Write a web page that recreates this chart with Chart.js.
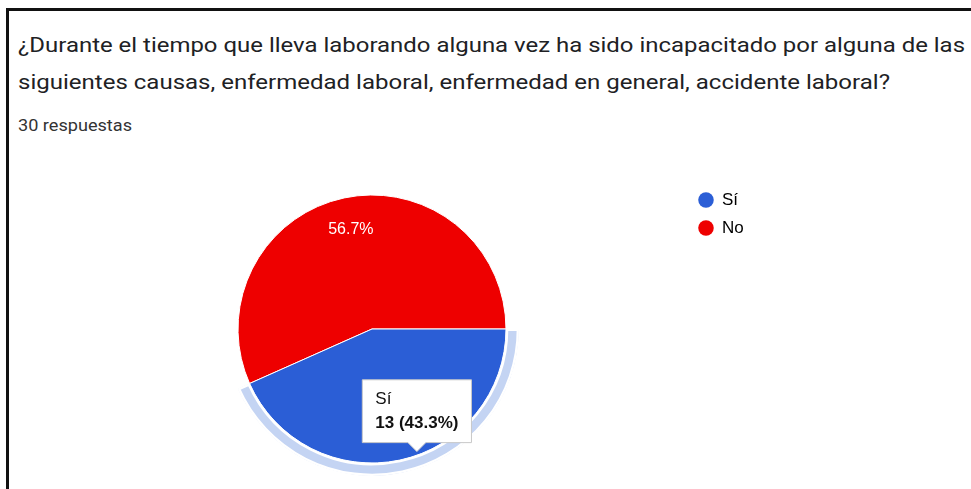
<!DOCTYPE html>
<html>
<head>
<meta charset="utf-8">
<script src="https://cdn.jsdelivr.net/npm/chart.js@4.4.1/dist/chart.umd.min.js"></script>
<style>
  html, body { margin: 0; padding: 0; background: #fff; }
  body { width: 971px; height: 489px; position: relative; overflow: hidden; }
  .frame-top { position: absolute; left: 6px; top: 8px; width: 965px; height: 3px; background: #111; }
  .frame-left { position: absolute; left: 6px; top: 8px; width: 3px; height: 481px; background: #111; }
  .txt { position: absolute; left: 18px; white-space: nowrap; font-family: Roboto, Arial, sans-serif;
         line-height: 1; color: #202124; transform-origin: 0 0; }
  .q { font-size: 21px; }
  .sub { font-size: 16px; color: #333; }
  #wrap { position: absolute; left: 0; top: 150px; width: 971px; height: 339px; }
</style>
</head>
<body>
<div class="frame-top"></div>
<div class="frame-left"></div>
<div class="txt q" style="top:35px" data-w="947">¿Durante el tiempo que lleva laborando alguna vez ha sido incapacitado por alguna de las</div>
<div class="txt q" style="top:72px" data-w="872">siguientes causas, enfermedad laboral, enfermedad en general, accidente laboral?</div>
<div class="txt sub" style="top:118px" data-w="114">30 respuestas</div>
<div id="wrap"><canvas id="pieChart"></canvas></div>

<script>
// data
const answers = ['Sí', 'No']
const counts = [13, 17]
const sliceColors = ['#2b5ed6', '#ee0000']
const ringColor = '#c4d4f3'

const total = counts.reduce((a, c) => a + c, 0)
const pct = v => (v / total * 100).toFixed(1)

// stretch text lines to the widths in the picture
document.querySelectorAll('.txt').forEach(el => {
    const w = el.getBoundingClientRect().width
    el.style.transform = 'scaleX(' + (parseFloat(el.dataset.w) / w) + ')'
})

Chart.defaults.font.family = 'Arial, "Liberation Sans", sans-serif'
Chart.defaults.color = '#222'

// tooltip anchored near the outer edge of the hovered slice
Chart.Tooltip.positioners.sliceEdge = function (items) {
    if (!items.length) return false
    const p = items[0].element.getProps(['x', 'y', 'outerRadius'], true)
    return { x: p.x + p.outerRadius * 0.335, y: p.y + p.outerRadius * 0.915 }
}

// percentage labels inside the slices
const sliceLabels = {
    id: 'sliceLabels',
    afterDatasetsDraw(chart) {
        const ctx = chart.ctx
        const meta = chart.getDatasetMeta(1)
        ctx.save()
        ctx.fillStyle = '#fff'
        ctx.font = '16px Arial, "Liberation Sans", sans-serif'
        ctx.textAlign = 'center'
        ctx.textBaseline = 'middle'
        meta.data.forEach((arc, i) => {
            const p = arc.getProps(['x', 'y', 'startAngle', 'endAngle', 'outerRadius'], true)
            const mid = (p.startAngle + p.endAngle) / 2
            const r = p.outerRadius * 0.76
            ctx.fillText(pct(counts[i]) + '%', p.x + Math.cos(mid) * r, p.y + Math.sin(mid) * r)
        })
        ctx.restore()
    }
}

const chart = new Chart(document.getElementById('pieChart'), {
    type: 'pie',
    data: {
        labels: answers,
        datasets: [
            {
                // highlight ring of the hovered slice
                data: counts,
                backgroundColor: [ringColor, 'rgba(0,0,0,0)'],
                hoverBackgroundColor: [ringColor, 'rgba(0,0,0,0)'],
                borderColor: '#fff',
                hoverBorderColor: '#fff',
                borderWidth: [2, 0],
                hoverBorderWidth: [2, 0],
                borderAlign: 'inner',
                weight: 13,
                clip: false
            },
            {
                data: counts,
                backgroundColor: sliceColors,
                hoverBackgroundColor: sliceColors,
                borderColor: '#fff',
                hoverBorderColor: '#fff',
                borderWidth: 1,
                hoverBorderWidth: 1,
                hoverOffset: 0,
                weight: 134,
                clip: false
            }
        ]
    },
    options: {
        responsive: true,
        maintainAspectRatio: false,
        animation: false,
        events: [],
        rotation: 90,
        radius: 147,
        layout: { padding: { top: 30.5, bottom: 11.5, left: 56.5, right: 223.5 } },
        plugins: {
            legend: {
                position: 'right',
                align: 'start',
                maxWidth: 60,
                labels: {
                    usePointStyle: true,
                    pointStyle: 'circle',
                    boxWidth: 15,
                    boxHeight: 11,
                    padding: 11,
                    color: '#222',
                    font: { size: 17 },
                    generateLabels: () => answers.map((a, i) => ({
                        text: a,
                        fillStyle: sliceColors[i],
                        strokeStyle: sliceColors[i],
                        lineWidth: 0,
                        pointStyle: 'circle',
                        index: i
                    }))
                }
            },
            tooltip: {
                position: 'sliceEdge',
                xAlign: 'center',
                yAlign: 'bottom',
                filter: item => item.datasetIndex === 1,
                backgroundColor: '#fff',
                borderColor: '#c8c8c8',
                borderWidth: 1,
                cornerRadius: 0,
                caretSize: 9,
                caretPadding: 0,
                displayColors: false,
                padding: { x: 13, y: 9 },
                titleColor: '#111',
                bodyColor: '#111',
                titleFont: { size: 17, weight: 'normal' },
                bodyFont: { size: 17, weight: 'bold' },
                titleMarginBottom: 4,
                callbacks: {
                    title: items => items[0].label,
                    label: item => item.parsed + ' (' + pct(item.parsed) + '%)'
                }
            }
        }
    },
    plugins: [sliceLabels]
})

const active = [{ datasetIndex: 1, index: 0 }]
chart.setActiveElements(active)
chart.tooltip.setActiveElements(active, { x: 0, y: 0 })
chart.update()
</script>
</body>
</html>
